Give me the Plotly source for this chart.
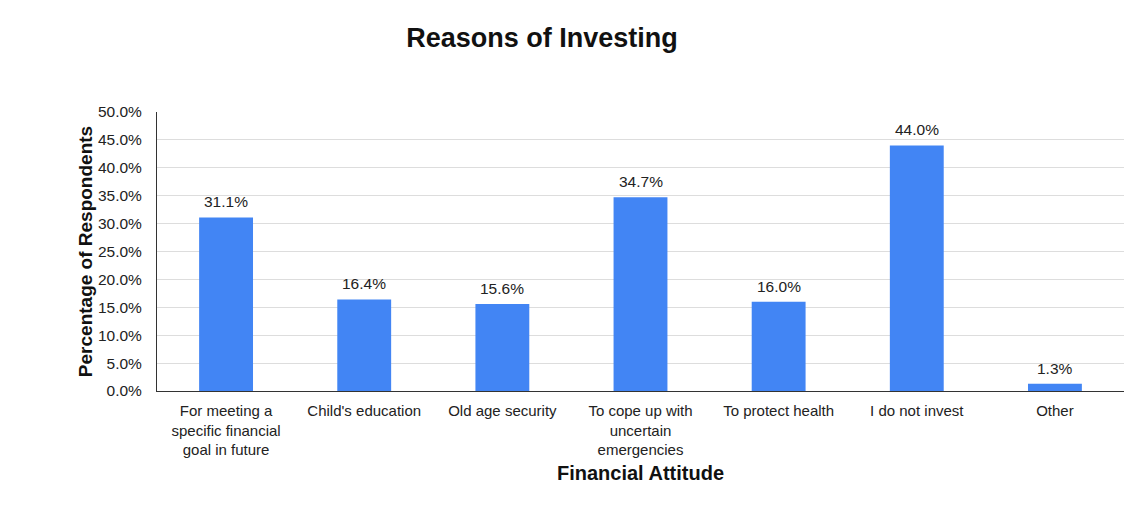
import plotly.graph_objects as go

categories = [
    "For meeting a<br>specific financial<br>goal in future",
    "Child's education",
    "Old age security",
    "To cope up with<br>uncertain<br>emergencies",
    "To protect health",
    "I do not invest",
    "Other",
]
percent_respondents = [31.1, 16.4, 15.6, 34.7, 16.0, 44.0, 1.3]
y_ticks = [0, 5, 10, 15, 20, 25, 30, 35, 40, 45, 50]

FONT = "Arial, Liberation Sans, sans-serif"

fig = go.Figure(
    go.Bar(
        x=categories,
        y=percent_respondents,
        marker=dict(color="#4285F4", line=dict(width=0)),
        width=0.39,
        hoverinfo="x+y",
    )
)

# value labels sitting above each bar
for cat, val in zip(categories, percent_respondents):
    fig.add_annotation(
        x=cat,
        y=val,
        text=f"{val:.1f}%",
        showarrow=False,
        yanchor="bottom",
        yshift=5,
        font=dict(family=FONT, size=15.5, color="#222222"),
    )

fig.update_layout(
    width=1127,
    height=505,
    margin=dict(l=157, r=3, t=112, b=114),
    paper_bgcolor="white",
    plot_bgcolor="white",
    showlegend=False,
    title=dict(
        text="<b>Reasons of Investing</b>",
        x=0.481,
        xanchor="center",
        y=0.925,
        yanchor="middle",
        font=dict(family=FONT, size=27, color="#111111"),
    ),
    xaxis=dict(
        showgrid=False,
        showline=True,
        linecolor="#333333",
        linewidth=1,
        ticks="",
        ticklabelstandoff=6,
        tickfont=dict(family=FONT, size=15, color="#222222"),
        title=dict(
            text="<b>Financial Attitude</b>",
            font=dict(family=FONT, size=20, color="#111111"),
            standoff=8,
        ),
    ),
    yaxis=dict(
        range=[0, 50],
        tickvals=y_ticks,
        ticktext=[f"{t:.1f}%" for t in y_ticks],
        showgrid=True,
        gridcolor="#dddddd",
        gridwidth=1,
        showline=True,
        linecolor="#333333",
        linewidth=1,
        zeroline=False,
        ticks="",
        ticklabelstandoff=11,
        tickfont=dict(family=FONT, size=15.5, color="#222222"),
        title=dict(
            text="<b>Percentage of Respondents</b>",
            font=dict(family=FONT, size=19, color="#111111"),
            standoff=0,
        ),
    ),
)

fig.write_html("out.html")
